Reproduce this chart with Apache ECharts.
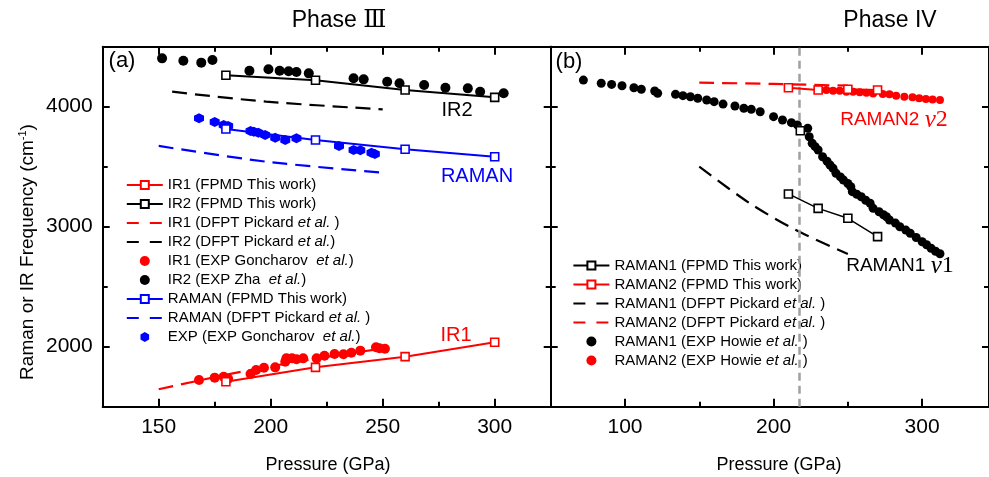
<!DOCTYPE html>
<html>
<head>
<meta charset="utf-8">
<script src="https://cdn.jsdelivr.net/npm/echarts@6/dist/echarts.min.js"></script>
<style>html,body{margin:0;padding:0;background:#fff}#c{width:989px;height:477px}</style>
</head>
<body>
<div id="c"></div>
<script>
// ---------- Panel (a): Phase III ----------
const fpmdP = [180, 220, 260, 300];
const ir1Fpmd = [1708, 1828, 1917, 2037];
const ir2Fpmd = [4262, 4220, 4139, 4078];
const ramanFpmd = [3814, 3722, 3645, 3583];
const ir1Dfpt = [[150, 1645], [182, 1773], [215, 1885], [250, 1985]];
const ir2Dfpt = [[156, 4125], [198, 4042], [250, 3978]];
const ramanDfpt = [[150, 3673], [198, 3542], [250, 3450]];
const ir1Exp = [[168, 1722], [175, 1742], [179, 1750], [181, 1733], [191, 1773], [193.5, 1806], [197, 1825],
  [202, 1828], [206.5, 1875], [207, 1903], [209.5, 1903], [211.5, 1895], [214.5, 1903], [220.5, 1903],
  [224, 1925], [228.5, 1939], [232.5, 1937], [236, 1950], [240, 1967], [247, 1995], [248.5, 1987], [251, 1983]];
const ir2Exp = [[151.5, 4403], [161, 4383], [169, 4367], [174, 4389], [190.5, 4300], [199, 4312], [204, 4300],
  [208, 4295], [211.5, 4289], [217, 4278], [237, 4237], [241.5, 4228], [252, 4208], [257.5, 4195], [268.5, 4181],
  [278, 4158], [288, 4153], [293.5, 4125], [304, 4112]];
const ramanExp = [[168, 3903], [175, 3873], [179, 3848], [181, 3839], [191, 3798], [192.5, 3792], [194.5, 3783],
  [197.5, 3764], [202, 3742], [206.5, 3722], [211.5, 3737], [230.5, 3673], [237, 3639], [240, 3637], [245, 3617], [246.5, 3606]];

// ---------- Panel (b): Phase IV ----------
const fpmdPb = [210, 230, 250, 270];
const raman1Fpmd = [3273, 3153, 3070, 2917];
const raman1FpmdExtra = [[218, 3800]];
const raman2Fpmd = [4158, 4139, 4145, 4139];
const raman1Dfpt = [[150, 3500], [184, 3195], [215, 2972], [250, 2773]];
const raman2Dfpt = [[150, 4200], [200, 4190], [250, 4175]];
const raman1Exp = [[72, 4222], [84, 4195], [91, 4186], [98, 4175], [106, 4158], [111, 4145], [120, 4131], [122, 4112],
  [134, 4103], [139, 4092], [144, 4083], [149, 4070], [155, 4056], [160, 4042], [166, 4022], [174, 4006], [180, 3987],
  [185, 3978], [191, 3958], [200, 3917], [206, 3889], [212, 3867], [216, 3848], [223, 3820], [224, 3750], [226, 3695],
  [228, 3667], [230, 3639], [233, 3583], [236, 3545], [238, 3514], [240, 3487], [242, 3445], [245, 3415], [247, 3389],
  [250, 3360], [252, 3333], [253, 3292], [256, 3270], [259, 3250], [262, 3220], [265, 3195], [267, 3153], [271, 3125],
  [274, 3100], [276, 3083], [278, 3056], [282, 3030], [285, 3000], [289, 2972], [292, 2945], [296, 2910], [300, 2875],
  [303, 2850], [306, 2820], [309, 2795], [312, 2775]];
const raman2Exp = [[231, 4145], [235.5, 4139], [240, 4133], [244.5, 4133], [249, 4125], [253.5, 4125], [258, 4120],
  [262.5, 4117], [267, 4111], [273.5, 4106], [278, 4103], [282.5, 4092], [288, 4083], [293.5, 4078], [298, 4070],
  [302.5, 4064], [307, 4061], [312, 4056]];
const phaseBoundary = 217;

// ---------- Axes ticks ----------
const xMajorA = [150, 200, 250, 300], xMinorA = [175, 225, 275];
const xMajorB = [100, 200, 300], xMinorB = [150, 250];
const yMajor = [2000, 3000, 4000], yMinor = [2500, 3500];

const FONT = "'Liberation Sans', Arial, Helvetica, sans-serif";
const SERIF = "'Liberation Serif', 'DejaVu Serif', serif";
const RED = '#ff0000', BLUE = '#0000ff', BLACK = '#000000';

function axis(grid, pos, min, max, ticks, len, showLabel, showLine) {
  return {
    type: 'value', gridIndex: grid, position: pos, min: min, max: max,
    axisLine: { show: showLine, onZero: false, lineStyle: { color: BLACK, width: 2 } },
    axisTick: { show: true, inside: true, length: len, customValues: ticks, lineStyle: { color: BLACK, width: 2 } },
    axisLabel: { show: showLabel, customValues: ticks, color: BLACK, fontSize: 21, fontFamily: FONT, margin: 10,
      formatter: v => String(v) },
    splitLine: { show: false }
  };
}
const xAxes = [
  axis(0, 'bottom', 125, 325, xMajorA, 8, true, true),
  axis(0, 'bottom', 125, 325, xMinorA, 5, false, false),
  axis(0, 'top', 125, 325, xMajorA, 8, false, true),
  axis(0, 'top', 125, 325, xMinorA, 5, false, false),
  axis(1, 'bottom', 50, 345, xMajorB, 8, true, true),
  axis(1, 'bottom', 50, 345, xMinorB, 5, false, false),
  axis(1, 'top', 50, 345, xMajorB, 8, false, true),
  axis(1, 'top', 50, 345, xMinorB, 5, false, false)
];
const yAxes = [
  axis(0, 'left', 1500, 4500, yMajor, 7, true, true),
  axis(0, 'left', 1500, 4500, yMinor, 5, false, false),
  axis(0, 'right', 1500, 4500, yMajor, 7, false, true),
  axis(0, 'right', 1500, 4500, yMinor, 5, false, false),
  axis(1, 'left', 1500, 4500, yMajor, 7, false, true),
  axis(1, 'left', 1500, 4500, yMinor, 5, false, false),
  axis(1, 'right', 1500, 4500, yMajor, 7, false, true),
  axis(1, 'right', 1500, 4500, yMinor, 5, false, false)
];

const zip = (xs, ys) => xs.map((x, i) => [x, ys[i]]);
const DASH = [15, 8];
const LEGEND_DASH = [12, 11];

function fpmd(name, data, color, panel, width) {
  return {
    name: name, type: 'line', data: data, xAxisIndex: panel * 4, yAxisIndex: panel * 4,
    symbol: 'rect', symbolSize: 8, showSymbol: true,
    lineStyle: { color: color, width: width || 2 },
    itemStyle: { color: '#ffffff', borderColor: color, borderWidth: 1.6 },
    z: 5
  };
}
function dfpt(name, data, color, panel) {
  return {
    name: name, type: 'line', data: data, xAxisIndex: panel * 4, yAxisIndex: panel * 4,
    symbol: 'none', showSymbol: false, smooth: 0.3,
    lineStyle: { color: color, width: 2.2, type: DASH },
    itemStyle: { color: color }, z: 3
  };
}
function exp(name, data, color, panel, size, symbol) {
  return {
    name: name, type: 'scatter', data: data, xAxisIndex: panel * 4, yAxisIndex: panel * 4,
    symbol: symbol || 'circle', symbolSize: size, itemStyle: { color: color, opacity: 1 }, z: 4
  };
}
const HEX = 'path://M0,-10L8.66,-5L8.66,5L0,10L-8.66,5L-8.66,-5Z';

const N = {
  ir1F: 'IR1 (FPMD This work)', ir2F: 'IR2 (FPMD This work)',
  ir1D: 'IR1 (DFPT Pickard et al. )', ir2D: 'IR2 (DFPT Pickard et al.)',
  ir1E: 'IR1 (EXP Goncharov  et al.)', ir2E: 'IR2 (EXP Zha  et al.)',
  raF: 'RAMAN (FPMD This work)', raD: 'RAMAN (DFPT Pickard et al. )', raE: 'EXP (EXP Goncharov  et al.)',
  r1F: 'RAMAN1 (FPMD This work)', r2F: 'RAMAN2 (FPMD This work)',
  r1D: 'RAMAN1 (DFPT Pickard et al. )', r2D: 'RAMAN2 (DFPT Pickard et al. )',
  r1E: 'RAMAN1 (EXP Howie et al. )', r2E: 'RAMAN2 (EXP Howie et al. )'
};

const series = [
  dfpt(N.ir1D, ir1Dfpt, RED, 0),
  dfpt(N.ir2D, ir2Dfpt, BLACK, 0),
  dfpt(N.raD, ramanDfpt, BLUE, 0),
  exp(N.ir1E, ir1Exp, RED, 0, 10),
  exp(N.ir2E, ir2Exp, BLACK, 0, 10),
  exp(N.raE, ramanExp, BLUE, 0, 10, HEX),
  fpmd(N.ir1F, zip(fpmdP, ir1Fpmd), RED, 0),
  fpmd(N.ir2F, zip(fpmdP, ir2Fpmd), BLACK, 0),
  fpmd(N.raF, zip(fpmdP, ramanFpmd), BLUE, 0),

  dfpt(N.r1D, raman1Dfpt, BLACK, 1),
  dfpt(N.r2D, raman2Dfpt, RED, 1),
  Object.assign(exp(N.r1E, raman1Exp, BLACK, 1, 9), {
    markLine: {
      silent: true, symbol: ['none', 'none'], label: { show: false },
      lineStyle: { color: '#a0a0a0', width: 2.5, type: [8, 5] },
      data: [{ xAxis: phaseBoundary }]
    }
  }),
  exp(N.r2E, raman2Exp, RED, 1, 8),
  fpmd(N.r1F, zip(fpmdPb, raman1Fpmd), BLACK, 1, 1.5),
  fpmd(N.r1F, raman1FpmdExtra, BLACK, 1, 1.5),
  fpmd(N.r2F, zip(fpmdPb, raman2Fpmd), RED, 1)
];

const legendText = {
  color: BLACK, fontSize: 15, fontFamily: FONT, lineHeight: 19,
  rich: { i: { fontStyle: 'italic', fontSize: 15, fontFamily: FONT, lineHeight: 19, color: BLACK } }
};
const legendFmt = n => n.replace('et al.', '{i|et al.}');
const dashItem = n => ({
  name: n,
  itemStyle: { opacity: 0, color: 'rgba(0,0,0,0)', borderColor: 'rgba(0,0,0,0)', borderWidth: 0 },
  lineStyle: { type: LEGEND_DASH, width: 2.2 }
});

const chart = echarts.init(document.getElementById('c'), null, { renderer: 'canvas' });
chart.setOption({
  animation: false,
  backgroundColor: '#ffffff',
  grid: [
    { left: 102.7, top: 46.7, width: 448, height: 360, containLabel: false },
    { left: 550.7, top: 46.7, width: 439.6, height: 360, containLabel: false }
  ],
  xAxis: xAxes,
  yAxis: yAxes,
  legend: [
    {
      data: [N.ir1F, N.ir2F, dashItem(N.ir1D), dashItem(N.ir2D), N.ir1E, N.ir2E, N.raF, dashItem(N.raD), N.raE],
      orient: 'vertical', left: 120.7, top: 170.5, itemWidth: 36, itemHeight: 10, itemGap: 0,
      textStyle: legendText, formatter: legendFmt, selectedMode: false
    },
    {
      data: [N.r1F, N.r2F, dashItem(N.r1D), dashItem(N.r2D), N.r1E, N.r2E],
      orient: 'vertical', left: 567.3, top: 251, itemWidth: 36, itemHeight: 10, itemGap: 0,
      textStyle: legendText, formatter: legendFmt, selectedMode: false
    }
  ],
  graphic: [
    { type: 'text', x: 339, y: 21, style: { text: 'Phase {r|Ⅲ}', font: "23px " + FONT, fill: BLACK, textAlign: 'center', textVerticalAlign: 'middle',
        rich: { r: { font: "24px 'DejaVu Serif', 'Noto Sans CJK SC', serif", fill: BLACK } } } },
    { type: 'text', x: 890, y: 21, style: { text: 'Phase IV', font: "23px " + FONT, fill: BLACK, textAlign: 'center', textVerticalAlign: 'middle' } },
    { type: 'text', x: 122, y: 61, style: { text: '(a)', font: "22px " + FONT, fill: BLACK, textAlign: 'center', textVerticalAlign: 'middle' } },
    { type: 'text', x: 569, y: 62, style: { text: '(b)', font: "22px " + FONT, fill: BLACK, textAlign: 'center', textVerticalAlign: 'middle' } },
    { type: 'text', x: 457, y: 110, style: { text: 'IR2', font: "20px " + FONT, fill: BLACK, textAlign: 'center', textVerticalAlign: 'middle' } },
    { type: 'text', x: 477, y: 176, style: { text: 'RAMAN', font: "20px " + FONT, fill: BLUE, textAlign: 'center', textVerticalAlign: 'middle' } },
    { type: 'text', x: 456, y: 335, style: { text: 'IR1', font: "20px " + FONT, fill: RED, textAlign: 'center', textVerticalAlign: 'middle' } },
    { type: 'text', x: 894, y: 120, style: {
        text: 'RAMAN2 {g|ν}{d|2}', font: "19px " + FONT, fill: RED, textAlign: 'center', textVerticalAlign: 'middle',
        rich: { g: { font: "italic 25px " + SERIF, fill: RED }, d: { font: "24px " + SERIF, fill: RED } } } },
    { type: 'text', x: 900, y: 266, style: {
        text: 'RAMAN1 {g|ν}{d|1}', font: "19px " + FONT, fill: BLACK, textAlign: 'center', textVerticalAlign: 'middle',
        rich: { g: { font: "italic 25px " + SERIF, fill: BLACK }, d: { font: "24px " + SERIF, fill: BLACK } } } },
    { type: 'text', x: 328, y: 465, style: { text: 'Pressure (GPa)', font: "18px " + FONT, fill: BLACK, textAlign: 'center', textVerticalAlign: 'middle' } },
    { type: 'text', x: 779, y: 465, style: { text: 'Pressure (GPa)', font: "18px " + FONT, fill: BLACK, textAlign: 'center', textVerticalAlign: 'middle' } },
    { type: 'text', x: 28, y: 252, rotation: Math.PI / 2, style: {
        text: 'Raman or IR Frequency (cm{s|-1})', font: "19px " + FONT, fill: BLACK, textAlign: 'center', textVerticalAlign: 'middle',
        rich: { s: { font: "11px " + FONT, fill: BLACK, verticalAlign: 'top', lineHeight: 22 } } } }
  ],
  series: series
});
</script>
</body>
</html>
